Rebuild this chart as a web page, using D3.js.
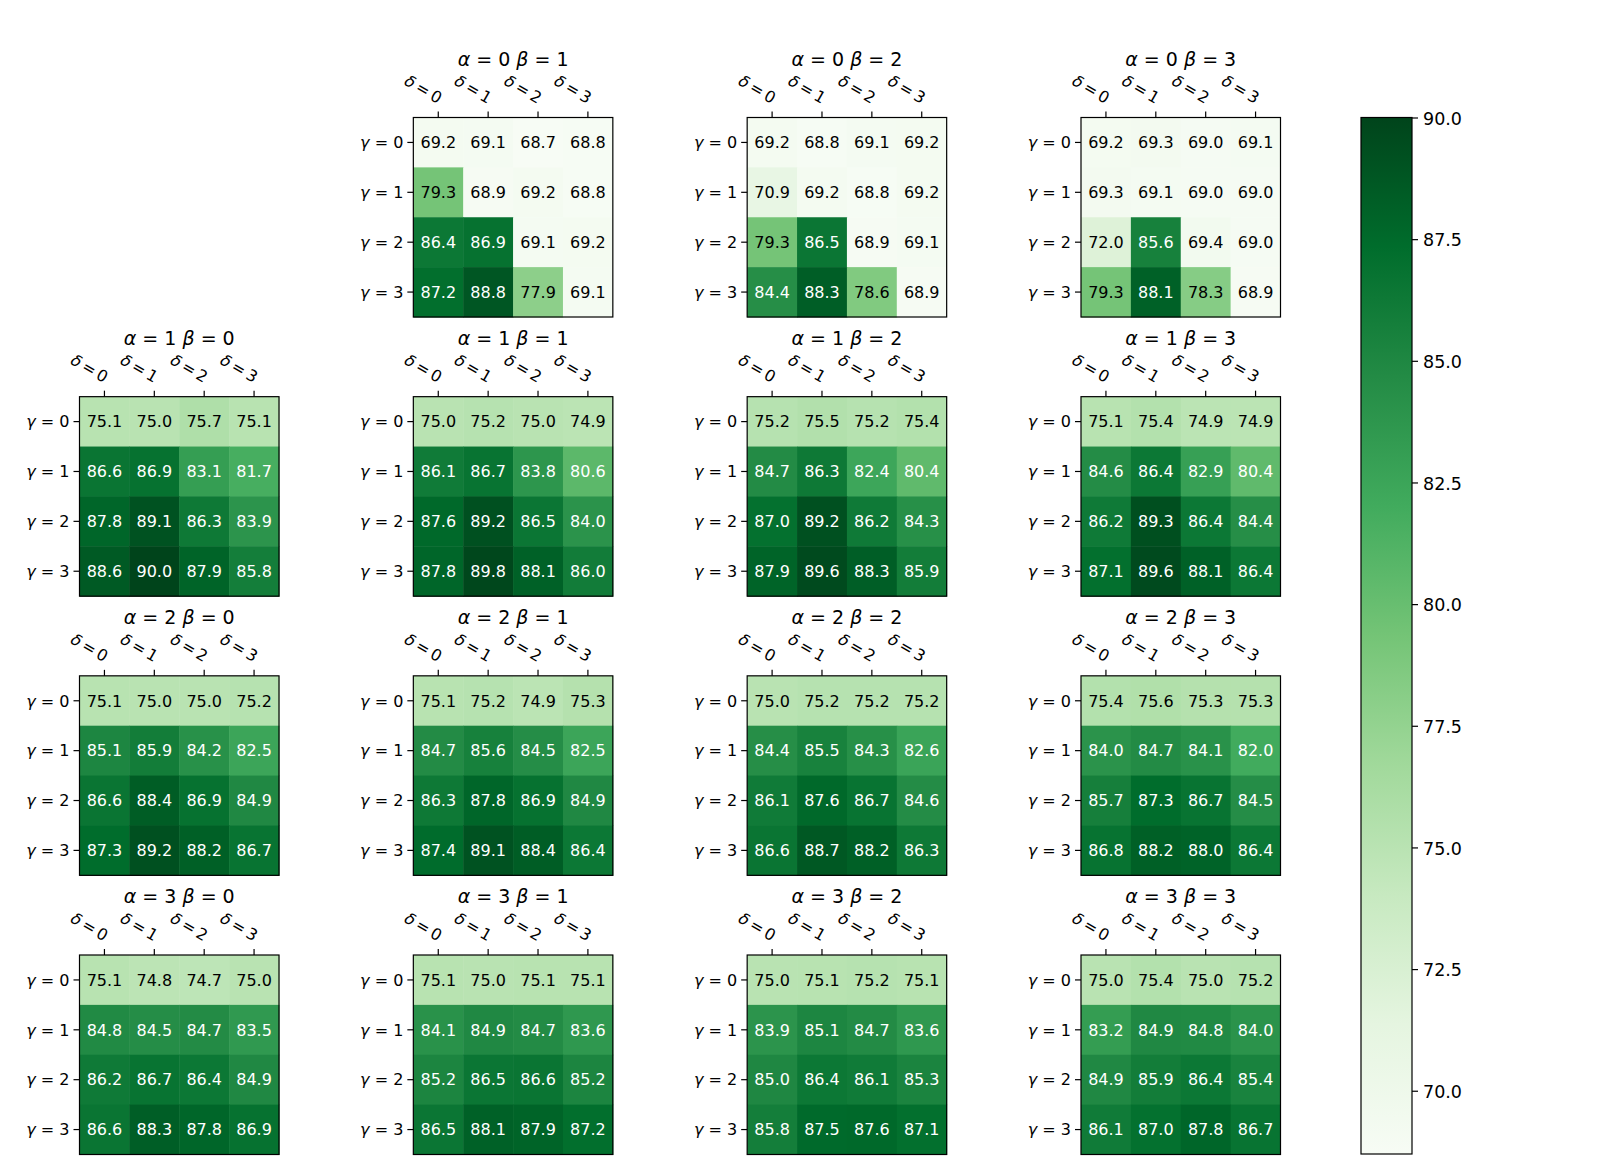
<!DOCTYPE html>
<html>
<head>
<meta charset="utf-8">
<script src="https://cdn.jsdelivr.net/npm/d3@7"></script>
<style>
  body { margin: 0; background: #fff; }
  text { font-family: "DejaVu Sans", sans-serif; fill: #000; }
</style>
</head>
<body>
<div id="chart"></div>
<script>
// grid of panels: alpha = row, beta = column, each panel is gamma (rows) x delta (cols)
const alphas = [0, 1, 2, 3];
const betas = [0, 1, 2, 3];
const gammas = [0, 1, 2, 3];
const deltas = [0, 1, 2, 3];

// panel values, one array per (alpha, beta)
const a0b1 = [[69.2, 69.1, 68.7, 68.8], [79.3, 68.9, 69.2, 68.8], [86.4, 86.9, 69.1, 69.2], [87.2, 88.8, 77.9, 69.1]];
const a0b2 = [[69.2, 68.8, 69.1, 69.2], [70.9, 69.2, 68.8, 69.2], [79.3, 86.5, 68.9, 69.1], [84.4, 88.3, 78.6, 68.9]];
const a0b3 = [[69.2, 69.3, 69.0, 69.1], [69.3, 69.1, 69.0, 69.0], [72.0, 85.6, 69.4, 69.0], [79.3, 88.1, 78.3, 68.9]];
const a1b0 = [[75.1, 75.0, 75.7, 75.1], [86.6, 86.9, 83.1, 81.7], [87.8, 89.1, 86.3, 83.9], [88.6, 90.0, 87.9, 85.8]];
const a1b1 = [[75.0, 75.2, 75.0, 74.9], [86.1, 86.7, 83.8, 80.6], [87.6, 89.2, 86.5, 84.0], [87.8, 89.8, 88.1, 86.0]];
const a1b2 = [[75.2, 75.5, 75.2, 75.4], [84.7, 86.3, 82.4, 80.4], [87.0, 89.2, 86.2, 84.3], [87.9, 89.6, 88.3, 85.9]];
const a1b3 = [[75.1, 75.4, 74.9, 74.9], [84.6, 86.4, 82.9, 80.4], [86.2, 89.3, 86.4, 84.4], [87.1, 89.6, 88.1, 86.4]];
const a2b0 = [[75.1, 75.0, 75.0, 75.2], [85.1, 85.9, 84.2, 82.5], [86.6, 88.4, 86.9, 84.9], [87.3, 89.2, 88.2, 86.7]];
const a2b1 = [[75.1, 75.2, 74.9, 75.3], [84.7, 85.6, 84.5, 82.5], [86.3, 87.8, 86.9, 84.9], [87.4, 89.1, 88.4, 86.4]];
const a2b2 = [[75.0, 75.2, 75.2, 75.2], [84.4, 85.5, 84.3, 82.6], [86.1, 87.6, 86.7, 84.6], [86.6, 88.7, 88.2, 86.3]];
const a2b3 = [[75.4, 75.6, 75.3, 75.3], [84.0, 84.7, 84.1, 82.0], [85.7, 87.3, 86.7, 84.5], [86.8, 88.2, 88.0, 86.4]];
const a3b0 = [[75.1, 74.8, 74.7, 75.0], [84.8, 84.5, 84.7, 83.5], [86.2, 86.7, 86.4, 84.9], [86.6, 88.3, 87.8, 86.9]];
const a3b1 = [[75.1, 75.0, 75.1, 75.1], [84.1, 84.9, 84.7, 83.6], [85.2, 86.5, 86.6, 85.2], [86.5, 88.1, 87.9, 87.2]];
const a3b2 = [[75.0, 75.1, 75.2, 75.1], [83.9, 85.1, 84.7, 83.6], [85.0, 86.4, 86.1, 85.3], [85.8, 87.5, 87.6, 87.1]];
const a3b3 = [[75.0, 75.4, 75.0, 75.2], [83.2, 84.9, 84.8, 84.0], [84.9, 85.9, 86.4, 85.4], [86.1, 87.0, 87.8, 86.7]];

const panelValues = {
  "0_1": a0b1, "0_2": a0b2, "0_3": a0b3,
  "1_0": a1b0, "1_1": a1b1, "1_2": a1b2, "1_3": a1b3,
  "2_0": a2b0, "2_1": a2b1, "2_2": a2b2, "2_3": a2b3,
  "3_0": a3b0, "3_1": a3b1, "3_2": a3b2, "3_3": a3b3
};

const cbarTicks = [70.0, 72.5, 75.0, 77.5, 80.0, 82.5, 85.0, 87.5, 90.0];

// matplotlib "Greens"
const greens = ["#f7fcf5", "#e5f5e0", "#c7e9c0", "#a1d99b", "#74c476", "#41ab5d", "#238b45", "#006d2c", "#00441b"];

const width = 1600, height = 1166;
const panelSize = 199.5;

const allValues = Object.values(panelValues).flat(2);
const vmin = d3.min(allValues), vmax = d3.max(allValues);

const color = d3.scaleLinear()
    .domain(greens.map((c, i) => vmin + (vmax - vmin) * i / (greens.length - 1)))
    .range(greens)
    .interpolate(d3.interpolateRgb);

const colX = d3.scaleLinear().domain([0, 3]).range([79.5, 1081]);
const rowY = d3.scaleLinear().domain([0, 3]).range([117.5, 955]);

const x = d3.scaleBand().domain(deltas).range([0, panelSize]);
const y = d3.scaleBand().domain(gammas).range([0, panelSize]);

const svg = d3.select("#chart")
    .append("svg")
    .attr("width", width)
    .attr("height", height);

function mathLabel(sel, greek, val, sp) {
    sel.append("tspan").attr("font-style", "italic").text(greek);
    sel.append("tspan").text(sp + "=" + sp + val);
}

const panels = [];
alphas.forEach(a => betas.forEach(b => {
    const key = a + "_" + b;
    if (panelValues[key]) panels.push({ a: a, b: b, values: panelValues[key] });
}));

const panel = svg.append("g")
    .selectAll("g")
    .data(panels)
    .enter().append("g")
    .attr("transform", d => `translate(${colX(d.b)},${rowY(d.a)})`);

panel.each(function(d) {
    const g = d3.select(this);
    const cells = [];
    d.values.forEach((row, gi) => row.forEach((v, di) => cells.push({ g: gi, d: di, v: v })));

    g.selectAll("rect.cell")
        .data(cells)
        .enter().append("rect")
        .attr("class", "cell")
        .attr("x", c => x(c.d))
        .attr("y", c => y(c.g))
        .attr("width", x.bandwidth() + 0.5)
        .attr("height", y.bandwidth() + 0.5)
        .attr("fill", c => color(c.v));

    g.selectAll("text.val")
        .data(cells)
        .enter().append("text")
        .attr("class", "val")
        .attr("x", c => x(c.d) + x.bandwidth() / 2)
        .attr("y", c => y(c.g) + y.bandwidth() / 2)
        .attr("dy", "0.36em")
        .attr("text-anchor", "middle")
        .attr("font-size", 16)
        .style("fill", c => c.v > (vmin + vmax) / 2 ? "#fff" : "#000")
        .text(c => c.v.toFixed(1));

    // frame
    g.append("rect")
        .attr("width", panelSize)
        .attr("height", panelSize)
        .attr("fill", "none")
        .attr("stroke", "#000")
        .attr("stroke-width", 1.2);

    // top ticks (delta)
    g.selectAll("line.xt")
        .data(deltas)
        .enter().append("line")
        .attr("x1", k => x(k) + x.bandwidth() / 2)
        .attr("x2", k => x(k) + x.bandwidth() / 2)
        .attr("y1", 0).attr("y2", -6)
        .attr("stroke", "#000").attr("stroke-width", 1.2);

    g.selectAll("text.xl")
        .data(deltas)
        .enter().append("text")
        .attr("class", "xl")
        .attr("font-size", 16)
        .attr("text-anchor", "end")
        .attr("transform", k => `translate(${x(k) + x.bandwidth() / 2 - 0.5},${-13.5}) rotate(30)`)
        .each(function(k) { mathLabel(d3.select(this), "δ", k, "\u2009"); });

    // left ticks (gamma)
    g.selectAll("line.yt")
        .data(gammas)
        .enter().append("line")
        .attr("y1", k => y(k) + y.bandwidth() / 2)
        .attr("y2", k => y(k) + y.bandwidth() / 2)
        .attr("x1", 0).attr("x2", -6)
        .attr("stroke", "#000").attr("stroke-width", 1.2);

    g.selectAll("text.yl")
        .data(gammas)
        .enter().append("text")
        .attr("class", "yl")
        .attr("font-size", 16)
        .attr("text-anchor", "end")
        .attr("x", -10)
        .attr("y", k => y(k) + y.bandwidth() / 2)
        .attr("dy", "0.36em")
        .each(function(k) { mathLabel(d3.select(this), "γ", k, " "); });

    // title
    const t = g.append("text")
        .attr("x", panelSize / 2)
        .attr("y", -52)
        .attr("text-anchor", "middle")
        .attr("font-size", 19);
    t.append("tspan").attr("font-style", "italic").text("α");
    t.append("tspan").text(" = " + d.a + " ");
    t.append("tspan").attr("font-style", "italic").text("β");
    t.append("tspan").text(" = " + d.b);
});

// colorbar
const cbX = 1361, cbW = 51, cbTop = 117.5, cbBottom = 1154;
const cbScale = d3.scaleLinear().domain([vmin, vmax]).range([cbBottom, cbTop]);

const grad = svg.append("defs").append("linearGradient")
    .attr("id", "cbgrad")
    .attr("x1", 0).attr("y1", 1).attr("x2", 0).attr("y2", 0);
grad.selectAll("stop")
    .data(greens)
    .enter().append("stop")
    .attr("offset", (c, i) => i / (greens.length - 1))
    .attr("stop-color", c => c);

svg.append("rect")
    .attr("x", cbX).attr("y", cbTop)
    .attr("width", cbW).attr("height", cbBottom - cbTop)
    .attr("fill", "url(#cbgrad)")
    .attr("stroke", "#000")
    .attr("stroke-width", 1.2);

const cbAxis = svg.append("g")
    .attr("transform", `translate(${cbX + cbW},0)`)
    .call(d3.axisRight(cbScale).tickValues(cbarTicks).tickFormat(d3.format(".1f")).tickSize(6).tickPadding(5));
cbAxis.select(".domain").remove();
cbAxis.selectAll("line").attr("stroke", "#000").attr("stroke-width", 1.2);
cbAxis.selectAll("text")
    .attr("font-size", 17.5)
    .attr("dy", "0.38em")
    .attr("font-family", "DejaVu Sans, sans-serif")
    .style("fill", "#000");
</script>
</body>
</html>
